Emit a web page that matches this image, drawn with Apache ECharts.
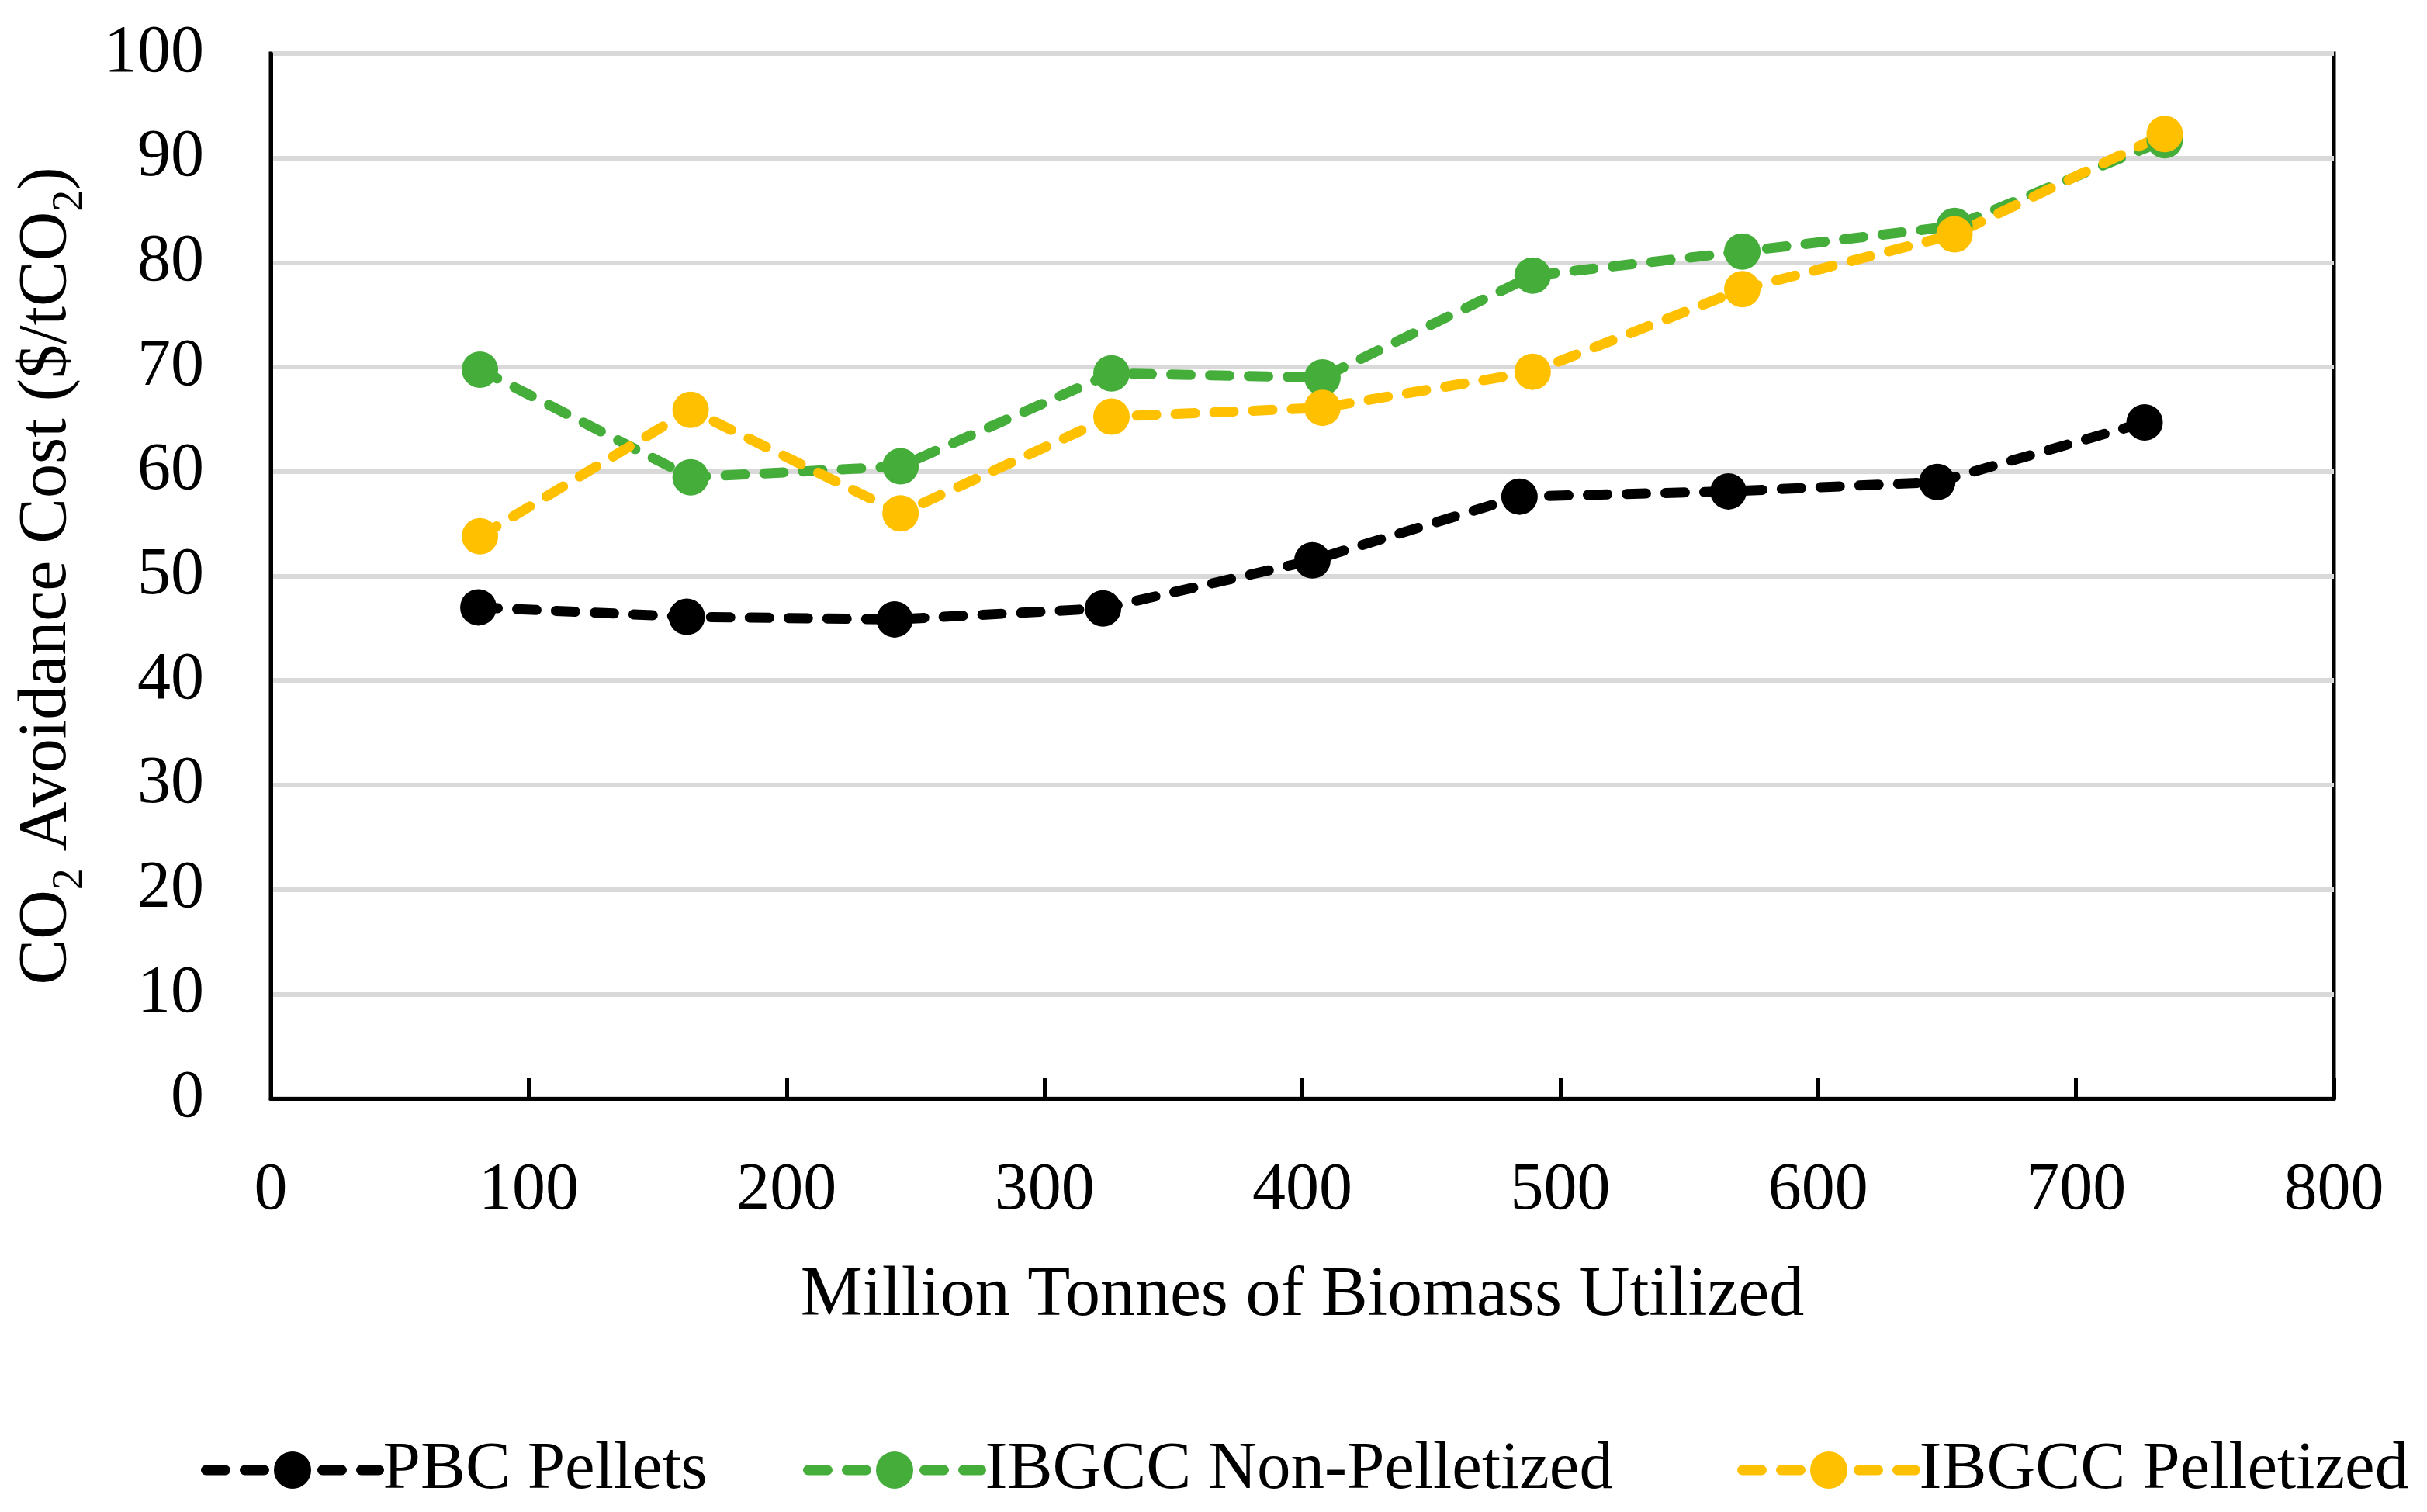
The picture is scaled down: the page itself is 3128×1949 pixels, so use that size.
<!DOCTYPE html>
<html>
<head>
<meta charset="utf-8">
<style>
html,body{margin:0;padding:0;background:#fff;}
#c{width:3128px;height:1949px;}
</style>
<script src="https://cdn.jsdelivr.net/npm/echarts@6/dist/echarts.min.js"></script>
</head>
<body>
<div id="c"></div>
<script>
// ---- data ----
const seriesNames = ['PBC Pellets', 'IBGCC Non-Pelletized', 'IBGCC Pelletized'];
const pbcX = [80.5, 161.3, 241.9, 322.7, 403.9, 484.2, 565.2, 646.2, 726.6];
const pbcY = [47.0, 46.1, 45.85, 46.9, 51.5, 57.6, 58.1, 59.0, 64.7];
const ibgccX = [81.1, 162.8, 244.2, 326.0, 407.8, 489.3, 570.6, 652.9, 734.4];
const nonPelY = [69.75, 59.45, 60.5, 69.4, 69.0, 78.75, 81.05, 83.5, 91.7];
const pelY = [53.8, 65.9, 56.0, 65.25, 66.1, 69.55, 77.45, 82.7, 92.3];
const xTicks = [0, 100, 200, 300, 400, 500, 600, 700, 800];
const yTicks = [0, 10, 20, 30, 40, 50, 60, 70, 80, 90, 100];
const colors = ['#000000', '#45AE3B', '#FFC000'];

const FONT = "'Liberation Serif', 'Times New Roman', serif";
const pair = (xs, ys) => xs.map((x, i) => [x, ys[i]]);

const chart = echarts.init(document.getElementById('c'), null, {renderer: 'canvas'});

function mkSeries(name, data, color) {
  return {
    name: name,
    type: 'line',
    data: data,
    symbol: 'circle',
    symbolSize: 47,
    showSymbol: true,
    animation: false,
    itemStyle: {color: color, borderWidth: 0},
    lineStyle: {color: color, width: 13, type: [25, 25], cap: 'round', join: 'round'},
    emphasis: {disabled: true}
  };
}

function mkLegend(name, left) {
  return {
    data: [name],
    left: left,
    top: 1845,
    orient: 'horizontal',
    itemWidth: 223,
    itemHeight: 60,
    selectedMode: false,
    lineStyle: {width: 13, type: [25, 25], cap: 'round'},
    itemStyle: {borderWidth: 0},
    textStyle: {fontFamily: FONT, fontSize: 87, color: '#000', lineHeight: 90, padding: [0, 0, 0, 0]}
  };
}

chart.setOption({
  backgroundColor: '#ffffff',
  animation: false,
  color: colors,
  grid: {left: 349, right: 120, top: 69, bottom: 533, show: true, borderColor: '#000', borderWidth: 5,
         backgroundColor: 'transparent', containLabel: false, outerBoundsMode: 'none'},
  legend: [mkLegend(seriesNames[0], 254), mkLegend(seriesNames[1], 1030), mkLegend(seriesNames[2], 2234)],
  xAxis: {
    type: 'value',
    min: xTicks[0],
    max: xTicks[xTicks.length - 1],
    interval: xTicks[1] - xTicks[0],
    name: 'Million Tonnes of Biomass Utilized',
    nameLocation: 'middle',
    nameGap: 210,
    nameTextStyle: {fontFamily: FONT, fontSize: 90, color: '#000'},
    axisLine: {show: true, onZero: false, lineStyle: {color: '#000', width: 5}},
    axisTick: {show: true, inside: true, length: 27, lineStyle: {color: '#000', width: 5}},
    axisLabel: {fontFamily: FONT, fontSize: 86, color: '#000', margin: 76},
    splitLine: {show: false}
  },
  yAxis: {
    type: 'value',
    min: yTicks[0],
    max: yTicks[yTicks.length - 1],
    interval: yTicks[1] - yTicks[0],
    name: '{n|CO}{s|2}{n| Avoidance Cost ($/tCO}{s|2}{n|)}',
    nameLocation: 'middle',
    nameGap: 230,
    nameRotate: 90,
    nameTextStyle: {
      fontFamily: FONT, fontSize: 88, color: '#000',
      rich: {
        n: {fontFamily: FONT, fontSize: 88, color: '#000', lineHeight: 110, verticalAlign: 'bottom', padding: [0, 0, 14, 0]},
        s: {fontFamily: FONT, fontSize: 56, color: '#000', lineHeight: 110, verticalAlign: 'bottom'}
      }
    },
    axisLine: {show: true, lineStyle: {color: '#000', width: 5}},
    axisTick: {show: false},
    axisLabel: {fontFamily: FONT, fontSize: 86, color: '#000', margin: 86},
    splitLine: {show: true, lineStyle: {color: '#d9d9d9', width: 6}}
  },
  series: [
    mkSeries(seriesNames[0], pair(pbcX, pbcY), colors[0]),
    mkSeries(seriesNames[1], pair(ibgccX, nonPelY), colors[1]),
    mkSeries(seriesNames[2], pair(ibgccX, pelY), colors[2])
  ]
});
</script>
</body>
</html>
